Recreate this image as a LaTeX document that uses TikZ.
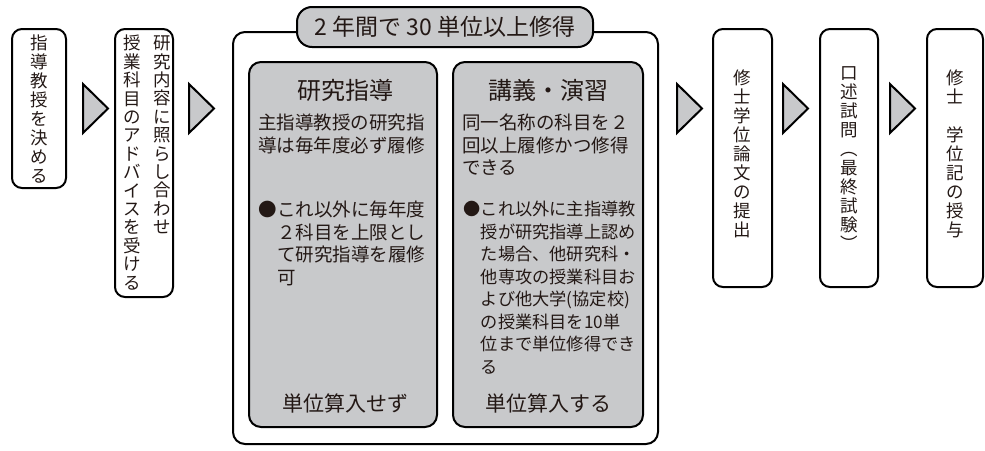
\documentclass[tikz,border=0pt]{standalone}
\usepackage{fontspec}
\setmainfont{Noto Sans CJK JP}
\usetikzlibrary{positioning}

\definecolor{ink}{RGB}{35,24,21}
\definecolor{boxgray}{RGB}{200,201,203}

\tikzstyle{stepbox} = [draw, rectangle, rounded corners=10pt, line width=2pt]
\tikzstyle{tate} = [inner sep=0pt, align=center, text=ink, font=\fontsize{17.5}{19}\selectfont]
\tikzstyle{panel} = [draw, rectangle, fill=boxgray, rounded corners=12pt, line width=2pt]
\tikzstyle{tri} = [draw, fill=boxgray, line width=2pt, line join=miter]
\tikzstyle{head} = [inner sep=0pt, text=ink, font=\fontsize{24}{24}\selectfont]
\tikzstyle{body} = [inner sep=0pt, align=left, anchor=north west, text=ink, font=\fontsize{18.5}{22.5}\selectfont]
\tikzstyle{small} = [inner sep=0pt, align=left, anchor=north west, text=ink, font=\fontsize{17.2}{22.5}\selectfont]
\tikzstyle{foot} = [inner sep=0pt, text=ink, font=\fontsize{21}{21}\selectfont]

\begin{document}
\begin{tikzpicture}[x=1pt, y=-1pt]
  \useasboundingbox (0,0) rectangle (985,450);

  % steps
  \node [stepbox, minimum width=54pt, minimum height=159pt] (choose) at (39,108.5) {};
  \node [tate] (choosetxt) at (39,109) {指\\導\\教\\授\\を\\決\\め\\る};
  \node [stepbox, minimum width=58pt, minimum height=268pt] (advice) at (144,163) {};
  \node [tate, font=\fontsize{17.5}{18.4}\selectfont] (advicea) at (162,135) {研\\究\\内\\容\\に\\照\\ら\\し\\合\\わ\\せ};
  \node [tate, font=\fontsize{17.5}{18.4}\selectfont] (adviceb) at (132,162.5) {授\\業\\科\\目\\の\\ア\\ド\\バ\\イ\\ス\\を\\受\\け\\る};
  \node [stepbox, minimum width=59pt, minimum height=258pt] (thesis) at (742.5,158) {};
  \node [tate] (thesistxt) at (742,154) {修\\士\\学\\位\\論\\文\\の\\提\\出};
  \node [stepbox, minimum width=58pt, minimum height=258pt] (exam) at (849,158) {};
  \node [tate] (examtxt) at (849,159) {口\\述\\試\\問\\︵\\最\\終\\試\\験\\︶};
  \node [stepbox, minimum width=56pt, minimum height=258pt] (degree) at (955,158) {};
  \node [tate] (degreetxt) at (955,154) {修\\士\\　\\学\\位\\記\\の\\授\\与};

  \foreach \x in {83,189,677,783,890}
    \draw [tri] (\x,84) -- ++(25,24.5) -- ++(-25,24.5) -- cycle;

  % course work
  \node [stepbox, rounded corners=12pt, minimum width=425pt, minimum height=412pt] (course) at (445.5,238) {};
  \node [draw, fill=boxgray, rounded corners=15pt, line width=2pt, minimum width=296pt, minimum height=40pt,
         text=ink, font=\fontsize{23}{23}\selectfont] (total) at (445,27) {2 年間で 30 単位以上修得};

  \node [panel, minimum width=188pt, minimum height=365pt] (research) at (343,244.5) {};
  \node [panel, minimum width=190pt, minimum height=365pt] (lecture) at (548,244.5) {};

  \node [head] (researchtitle) at (345,90) {研究指導};
  \node [body] (researchnote) at (258,114) {主指導教授の研究指\\導は毎年度必ず履修};
  \node [body] (researchdot) at (258,201) {●};
  \node [body, right=0pt of researchdot.north east, anchor=north west] (researchmore)
        {これ以外に毎年度\\２科目を上限とし\\て研究指導を履修\\可};
  \node [foot] (researchcredit) at (345,403) {単位算入せず};

  \node [head] (lecturetitle) at (548,90) {講義・演習};
  \node [body] (lecturenote) at (462,114) {同一名称の科目を２\\回以上履修かつ修得\\できる};
  \node [small] (lecturedot) at (463,201) {●};
  \node [small, right=0pt of lecturedot.north east, anchor=north west] (lecturemore)
        {これ以外に主指導教\\授が研究指導上認め\\た場合、他研究科・\\他専攻の授業科目お\\よび他大学(協定校)\\の授業科目を10単\\位まで単位修得でき\\る};
  \node [foot] (lecturecredit) at (548,403) {単位算入する};
\end{tikzpicture}
\end{document}
